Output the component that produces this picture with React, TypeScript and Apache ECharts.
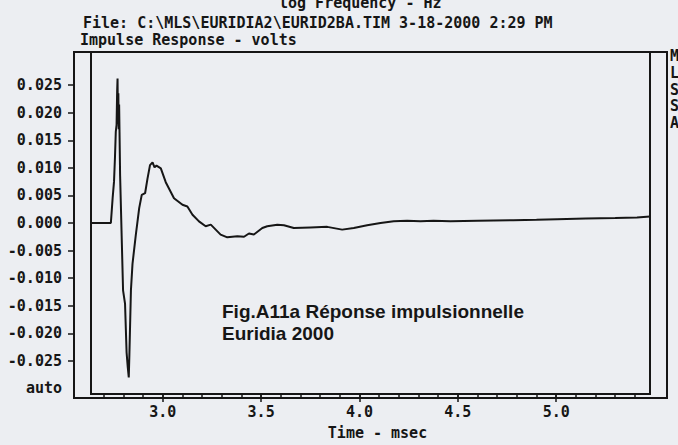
import React, { useEffect, useRef } from "react";
import * as echarts from "echarts";

// Impulse response samples: time (ms) and amplitude (V)
const timeMs = [
  2.640, 2.736, 2.745, 2.752, 2.757, 2.761, 2.765, 2.768, 2.770, 2.772,
  2.774, 2.776, 2.778, 2.780, 2.783, 2.792, 2.798, 2.808, 2.816, 2.822,
  2.827, 2.830, 2.838, 2.846, 2.863, 2.880, 2.893, 2.910, 2.922, 2.935,
  2.948, 2.958, 2.968, 2.990, 3.015, 3.057, 3.100, 3.125, 3.151, 3.184,
  3.218, 3.244, 3.269, 3.294, 3.328, 3.379, 3.413, 3.438, 3.463, 3.506,
  3.531, 3.582, 3.616, 3.666, 3.751, 3.836, 3.912, 3.971, 4.039, 4.107,
  4.174, 4.242, 4.310, 4.377, 4.462, 4.600, 4.782, 4.900, 5.005, 5.150,
  5.300, 5.411, 5.477,
];
const volts = [
  0.0, 0.0, 0.0045, 0.0075, 0.0120, 0.0165, 0.0178, 0.0240, 0.0262, 0.0180,
  0.0235, 0.0170, 0.0215, 0.0165, 0.0086, -0.0039, -0.0122, -0.0146, -0.0235, -0.0262,
  -0.0280, -0.0241, -0.0122, -0.0074, -0.0021, 0.0027, 0.0051, 0.0054, 0.0080, 0.0105,
  0.0110, 0.0101, 0.0104, 0.0099, 0.0074, 0.0045, 0.0033, 0.0030, 0.0015, 0.0003,
  -0.0006, -0.0003, -0.0012, -0.0021, -0.0026, -0.0024, -0.0025, -0.0019, -0.0021, -0.0009,
  -0.0006, -0.0003, -0.0004, -0.0009, -0.0008, -0.0007, -0.0012, -0.0009, -0.0004, 0.0000,
  0.0003, 0.0004, 0.0003, 0.0004, 0.0003, 0.0004, 0.0005, 0.0006, 0.0007, 0.0008,
  0.0009, 0.0010, 0.0012,
];

// Axis ticks and labels
const xMinorTicks = [
  2.7, 2.8, 2.9, 3.0, 3.1, 3.2, 3.3, 3.4, 3.5, 3.6, 3.7, 3.8, 3.9, 4.0,
  4.1, 4.2, 4.3, 4.4, 4.5, 4.6, 4.7, 4.8, 4.9, 5.0, 5.1, 5.2, 5.3, 5.4,
];
const xMajorTicks = [3.0, 3.5, 4.0, 4.5, 5.0];
const yTicks = [-0.025, -0.02, -0.015, -0.01, -0.005, 0, 0.005, 0.01, 0.015, 0.02, 0.025];
const yLabels = [-0.03, -0.025, -0.02, -0.015, -0.01, -0.005, 0, 0.005, 0.01, 0.015, 0.02, 0.025];

const headerLines = [
  "log Frequency - Hz",
  "File: C:\\MLS\\EURIDIA2\\EURID2BA.TIM 3-18-2000 2:29 PM",
  "Impulse Response - volts",
];
const sideLetters = ["M", "L", "S", "S", "A"];
const captionLines = ["Fig.A11a Réponse impulsionnelle", "Euridia 2000"];

const X_MIN = 2.635;
const X_MAX = 5.477;
const Y_MIN = -0.031;
const Y_MAX = 0.031;

const INK = "#161616";
const MONO = '"DejaVu Sans Mono", monospace';

export default function App() {
  const ref = useRef<HTMLDivElement>(null);

  useEffect(() => {
    if (!ref.current) return;
    const chart = echarts.init(ref.current, null, { renderer: "svg" });

    const monoText = (text: string, x: number, y: number) => ({
      type: "text",
      x,
      y,
      style: {
        text,
        fill: INK,
        font: `bold 15px ${MONO}`,
        verticalAlign: "middle",
        align: "left",
      },
    });

    const option = {
      animation: false,
      backgroundColor: "#eceef2",
      grid: [
        {
          left: 91,
          right: 28,
          top: 52,
          bottom: 47,
          show: true,
          borderColor: INK,
          borderWidth: 2,
          backgroundColor: "transparent",
        },
        {
          left: 74,
          right: 11,
          top: 52,
          bottom: 47,
          show: true,
          borderColor: INK,
          borderWidth: 2,
          backgroundColor: "transparent",
        },
      ],
      xAxis: [
        {
          type: "value",
          gridIndex: 0,
          min: X_MIN,
          max: X_MAX,
          position: "bottom",
          axisLine: { show: true, onZero: false, lineStyle: { color: INK, width: 2 } },
          axisTick: {
            show: true,
            inside: false,
            length: 5,
            customValues: xMinorTicks,
            lineStyle: { color: INK, width: 1.5 },
          },
          axisLabel: { show: false },
          splitLine: { show: false },
        },
        {
          type: "value",
          gridIndex: 0,
          min: X_MIN,
          max: X_MAX,
          position: "bottom",
          axisLine: { show: false, onZero: false },
          axisTick: {
            show: true,
            inside: false,
            length: 8,
            customValues: xMajorTicks,
            lineStyle: { color: INK, width: 1.5 },
          },
          axisLabel: {
            show: true,
            customValues: xMajorTicks,
            margin: 10,
            color: INK,
            fontFamily: MONO,
            fontWeight: "bold",
            fontSize: 15,
            formatter: (v: number) => v.toFixed(1),
          },
          splitLine: { show: false },
          name: "Time - msec",
          nameLocation: "middle",
          nameGap: 31,
          nameTextStyle: {
            color: INK,
            fontFamily: MONO,
            fontWeight: "bold",
            fontSize: 15,
            padding: [0, 0, 0, 14],
          },
        },
        { type: "value", gridIndex: 1, show: false, min: 0, max: 1 },
      ],
      yAxis: [
        {
          type: "value",
          gridIndex: 0,
          min: Y_MIN,
          max: Y_MAX,
          offset: 17,
          axisLine: { show: true, onZero: false, lineStyle: { color: INK, width: 2 } },
          axisTick: {
            show: true,
            inside: false,
            length: 6,
            customValues: yTicks,
            lineStyle: { color: INK, width: 1.5 },
          },
          axisLabel: {
            show: true,
            customValues: yLabels,
            margin: 12,
            color: INK,
            fontFamily: MONO,
            fontWeight: "bold",
            fontSize: 15,
            formatter: (v: number) => (v < -0.0295 ? "auto" : v.toFixed(3)),
          },
          splitLine: { show: false },
        },
        { type: "value", gridIndex: 1, show: false, min: 0, max: 1 },
      ],
      series: [
        {
          type: "line",
          xAxisIndex: 0,
          yAxisIndex: 0,
          data: timeMs.map((t, i) => [t, volts[i]]),
          showSymbol: false,
          lineStyle: { color: INK, width: 2 },
          clip: true,
        },
      ],
      graphic: [
        monoText(headerLines[0], 279, 2.8),
        monoText(headerLines[1], 83, 22.8),
        monoText(headerLines[2], 80, 39.8),
        ...sideLetters.map((s, i) => monoText(s, 670, 56 + i * 16.8)),
        ...captionLines.map((line, i) => ({
          type: "text",
          x: 222,
          y: 311.4 + i * 22,
          style: {
            text: line,
            fill: INK,
            font: 'bold 19px "Liberation Sans", Arial, sans-serif',
            verticalAlign: "middle",
            align: "left",
          },
        })),
      ],
    };

    chart.setOption(option as any);
    return () => chart.dispose();
  }, []);

  return (
    <div
      ref={ref}
      style={{ position: "fixed", left: 0, top: 0, width: 678, height: 445 }}
    />
  );
}
